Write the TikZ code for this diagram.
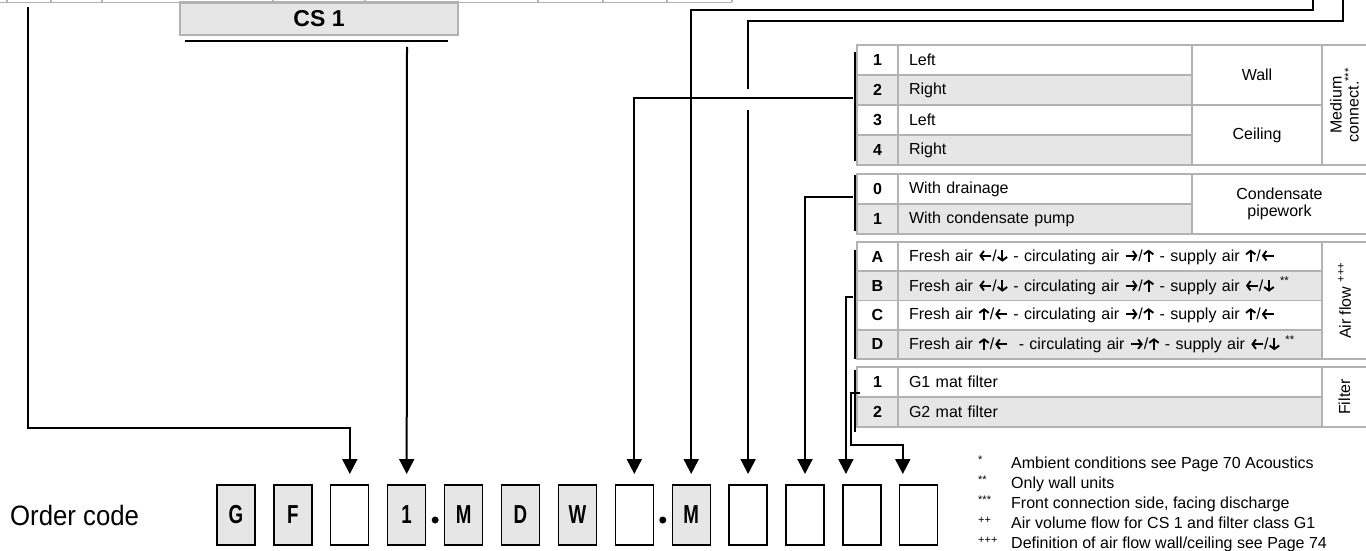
\documentclass[tikz,border=0pt]{standalone}
\usepackage{fontspec}
\setmainfont{Liberation Sans}
\newfontfamily\narrowfont{Liberation Sans}[FakeStretch=0.72]
\newfontfamily\labelfont{Liberation Sans}[FakeStretch=0.92]
\usetikzlibrary{arrows.meta, positioning, calc}
\definecolor{CellGray}{RGB}{230,230,230}
\definecolor{LineGray}{RGB}{178,178,178}
\newcommand{\tabfont}{\fontsize{16}{17}\selectfont}
% small bold flow arrows used in the air flow rows
\newcommand{\flowarrow}[2]{\tikz[baseline={(0,-5.5pt)}, x=1pt, y=1pt]
  \draw[black, line width=1.9pt, -{Straight Barb[length=3.5pt, width=9.5pt, line width=1.9pt]}] (#1) -- (#2);}
\newcommand{\tol}{\flowarrow{6,0}{-6,0}}
\newcommand{\tor}{\flowarrow{-6,0}{6,0}}
\newcommand{\tou}{\flowarrow{0,-6}{0,6}}
\newcommand{\tod}{\flowarrow{0,6}{0,-6}}

\begin{document}
\begin{tikzpicture}[
    x=1pt, y=-1pt,
    cell/.style={draw=LineGray, line width=1.6pt, minimum height=30pt, inner sep=0pt, outer sep=0pt, font=\tabfont},
    numcell/.style={cell, minimum width=41pt, font=\tabfont\bfseries},
    rowcell/.style={cell, inner xsep=11pt, text width=272pt, align=left},
    widecell/.style={rowcell, text width=402pt},
    grpcell/.style={cell, minimum width=130pt, align=center},
    sidecell/.style={cell, rotate=90, minimum height=45pt, align=center},
    codebox/.style={draw=black, line width=1.3pt, minimum width=38pt, minimum height=60pt, inner sep=0pt, outer sep=0pt, font=\narrowfont\fontsize{26}{26}\selectfont\bfseries},
    codefix/.style={codebox, fill=CellGray},
    dotmark/.style={circle, fill=black, minimum size=7pt, inner sep=0pt},
    arr/.style={line width=2pt, -{Triangle[length=15pt, width=15pt]}, shorten >=11pt},
    brk/.style={line width=2pt},
    note/.style={font=\tabfont, anchor=base west, inner sep=0pt},
    noteref/.style={font=\fontsize{11}{11}\selectfont, anchor=base west, inner sep=0pt}
  ]
    \useasboundingbox[fill=white] (0,0) rectangle (1366,551);

    % Header strip (cut off at top)
    \draw[LineGray, line width=1.6pt] (-2,2.5) -- (732,2.5)
      (7,-2) -- (7,2.5) (51,-2) -- (51,2.5) (102,-2) -- (102,2.5)
      (273,-2) -- (273,2.5) (365,-2) -- (365,2.5) (538,-2) -- (538,2.5)
      (603,-2) -- (603,2.5) (667,-2) -- (667,2.5) (732,-2) -- (732,2.5);
    \node[draw=LineGray, line width=2.4pt, fill=CellGray, minimum width=278pt, minimum height=32.5pt,
      inner sep=0pt, outer sep=0pt, font=\fontsize{23}{23}\selectfont\bfseries] (cs) at (319,18.75) {CS 1};
    \draw[brk] ([shift={(5pt,-6pt)}]cs.south west) -- ([shift={(-10pt,-6pt)}]cs.south east);

    % Medium connection
    \node[numcell] (n11) at (877.5,60) {1};
    \node[numcell, fill=CellGray, below=0pt of n11] (n12) {2};
    \node[numcell, below=0pt of n12] (n13) {3};
    \node[numcell, fill=CellGray, below=0pt of n13] (n14) {4};
    \node[rowcell, right=0pt of n11] (r11) {Left};
    \node[rowcell, fill=CellGray, right=0pt of n12] (r12) {Right};
    \node[rowcell, right=0pt of n13] (r13) {Left};
    \node[rowcell, fill=CellGray, right=0pt of n14] (r14) {Right};
    \node[grpcell, minimum height=60pt, anchor=north west] (wall) at (r11.north east) {Wall};
    \node[grpcell, minimum height=60pt, below=0pt of wall] (ceil) {Ceiling};
    \node[sidecell, minimum width=120pt, anchor=north east] (medium) at (wall.north east) {Medium\\connect.\textsuperscript{***}};

    % Condensate
    \node[numcell] (n21) at (877.5,189) {0};
    \node[numcell, fill=CellGray, below=0pt of n21] (n22) {1};
    \node[rowcell, right=0pt of n21] (r21) {With drainage};
    \node[rowcell, fill=CellGray, right=0pt of n22] (r22) {With condensate pump};
    \node[cell, minimum width=175pt, minimum height=60pt, align=center, anchor=north west] (cond) at (r21.north east) {Condensate\\pipework};

    % Air flow
    \node[numcell, minimum height=29.25pt] (n31) at (877.5,256.6) {A};
    \node[numcell, minimum height=29.25pt, fill=CellGray, below=0pt of n31] (n32) {B};
    \node[numcell, minimum height=29.25pt, below=0pt of n32] (n33) {C};
    \node[numcell, minimum height=29.25pt, fill=CellGray, below=0pt of n33] (n34) {D};
    \node[widecell, minimum height=29.25pt, right=0pt of n31] (r31) {Fresh air \tol/\tod{} - circulating air \tor/\tou{} - supply air \tou/\tol};
    \node[widecell, minimum height=29.25pt, fill=CellGray, right=0pt of n32] (r32) {Fresh air \tol/\tod{} - circulating air \tor/\tou{} - supply air \tol/\tod{} \textsuperscript{**}};
    \node[widecell, minimum height=29.25pt, right=0pt of n33] (r33) {Fresh air \tou/\tol{} - circulating air \tor/\tou{} - supply air \tou/\tol};
    \node[widecell, minimum height=29.25pt, fill=CellGray, right=0pt of n34] (r34) {Fresh air \tou/\tol~ - circulating air \tor/\tou{} - supply air \tol/\tod{} \textsuperscript{**}};
    \node[sidecell, minimum width=117pt, anchor=north east] (airflow) at (r31.north east) {Air flow \textsuperscript{+++}};

    % Filter
    \node[numcell] (n41) at (877.5,382) {1};
    \node[numcell, fill=CellGray, below=0pt of n41] (n42) {2};
    \node[widecell, right=0pt of n41] (r41) {G1 mat filter};
    \node[widecell, fill=CellGray, right=0pt of n42] (r42) {G2 mat filter};
    \node[sidecell, minimum width=60pt, anchor=north east] (filter) at (r41.north east) {Filter};

    % Brackets
    \draw[brk] (854.5,52) -- (854.5,161);
    \draw[brk] (854.5,175) -- (854.5,231);
    \draw[brk] (854.5,250) -- (854.5,359);
    \draw[brk] (854.5,370) -- (854.5,432);

    % Order code
    \node[font=\labelfont\fontsize{28}{28}\selectfont, anchor=west, inner sep=0pt] (oc) at (10,515) {Order code};
    \node[codefix] (b1) at (236,515) {G};
    \node[codefix, right=18.9pt of b1] (b2) {F};
    \node[codebox, right=18.9pt of b2] (b3) {};
    \node[codefix, right=18.9pt of b3] (b4) {1};
    \node[codefix, right=18.9pt of b4] (b5) {M};
    \node[codefix, right=18.9pt of b5] (b6) {D};
    \node[codefix, right=18.9pt of b6] (b7) {W};
    \node[codebox, right=18.9pt of b7] (b8) {};
    \node[codefix, right=18.9pt of b8] (b9) {M};
    \node[codebox, right=18.9pt of b9] (b10) {};
    \node[codebox, right=18.9pt of b10] (b11) {};
    \node[codebox, right=18.9pt of b11] (b12) {};
    \node[codebox, right=18.9pt of b12] (b13) {};
    \node[dotmark] (d1) at ($(b4.east)!0.5!(b5.west)+(0,5)$) {};
    \node[dotmark] (d2) at ($(b8.east)!0.5!(b9.west)+(0,5)$) {};

    % Connectors
    \coordinate (k1) at (28,7);
    \coordinate (k2) at (407,47);
    \coordinate (k4) at (1313,-2);
    \coordinate (k5) at (1343,-2);
    \coordinate (m1) at (853,98);
    \coordinate (m2) at (853,197);
    \coordinate (m3) at (853,297);
    \coordinate (m4) at (860,393);
    \draw[arr] (k1) |- ([yshift=57pt]b3.north) -- (b3.north);
    \draw[arr] (k2) -- (b4.north);
    \draw[arr] (k4) |- (b9.north |- 0,10) -- (b9.north);
    \draw[arr] (k5) |- (b10.north |- 0,21) -- (b10.north);
    \fill[white] (b10.north |- 0,89) ++(-4,0) rectangle ++(8,21);
    \draw[arr] (m1) -| (b8.north);
    \draw[arr] (m2) -| (b11.north);
    \draw[arr] (m3) -| ([xshift=-16pt]b12.north);
    \draw[arr] (m4) -| (851,445) -| ([xshift=-16pt]b13.north);

    % Footnotes
    \node[noteref] (f1m) at (978,463) {*};
    \node[note] (f1) at (1011,468) {Ambient conditions see Page 70 Acoustics};
    \node[noteref] (f2m) at (978,483.2) {**};
    \node[note] (f2) at (1011,488.2) {Only wall units};
    \node[noteref] (f3m) at (978,503.4) {***};
    \node[note] (f3) at (1011,508.4) {Front connection side, facing discharge};
    \node[noteref] (f4m) at (978,523.6) {++};
    \node[note] (f4) at (1011,528.6) {Air volume flow for CS 1 and filter class G1};
    \node[noteref] (f5m) at (978,543.8) {+++};
    \node[note] (f5) at (1011,548.8) {Definition of air flow wall/ceiling see Page 74};
  \end{tikzpicture}
\end{document}
